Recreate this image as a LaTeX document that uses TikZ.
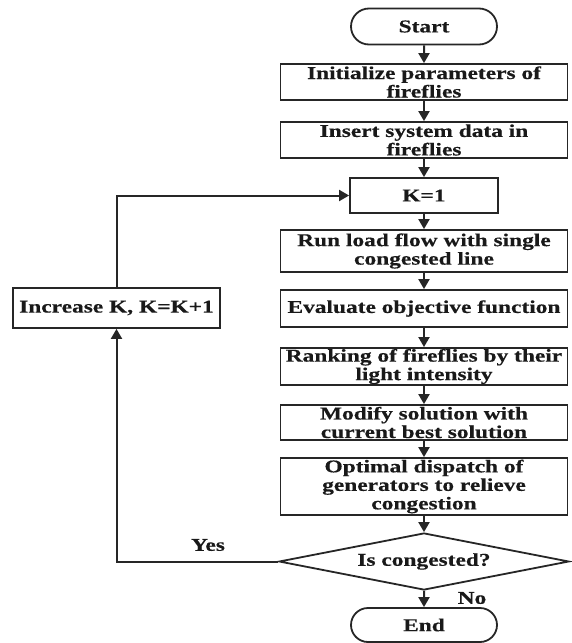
\documentclass[tikz,border=0pt]{standalone}
\usepackage{fontspec}
\setmainfont[FakeStretch=1.3,BoldFeatures={FakeStretch=1.3,FakeBold=0.4}]{Liberation Serif}
\usetikzlibrary{shapes.geometric,shapes.misc,arrows.meta}
\begin{document}
\begin{tikzpicture}[x=1pt,y=-1pt,
  every node/.style={font=\fontsize{18}{18.5}\selectfont\bfseries, align=center, inner sep=1pt, text=black!90},
  procbox/.style={draw=black!85, rectangle, line width=1.8pt},
  termbox/.style={draw=black!85, rounded rectangle, line width=1.8pt, minimum width=148pt, minimum height=36pt},
  decbox/.style={draw=black!85, diamond, aspect=5.1, inner sep=0pt, line width=1.8pt, minimum width=290pt, minimum height=57pt},
  flow/.style={draw=black!85, line width=2pt, -{Triangle[length=10pt,width=11pt]}},
  lbl/.style={font=\fontsize{18}{18.5}\selectfont\bfseries}]
\useasboundingbox (0,0) rectangle (572,643);
\node[termbox] (start) at (424,26.5) {Start};
\node[procbox, minimum width=287pt, minimum height=36pt] (init) at (424,82) {Initialize parameters of\\fireflies};
\node[procbox, minimum width=287pt, minimum height=36pt] (insert) at (424,140) {Insert system data in\\fireflies};
\node[procbox, minimum width=148pt, minimum height=35pt] (k1) at (424,195.5) {K=1};
\node[procbox, minimum width=287pt, minimum height=42pt] (run) at (424,251) {Run load flow with single\\congested line};
\node[procbox, minimum width=287pt, minimum height=37pt] (eval) at (424,308.5) {Evaluate objective function};
\node[procbox, minimum width=287pt, minimum height=37pt] (rank) at (424,366.5) {Ranking of fireflies by their\\light intensity};
\node[procbox, minimum width=287pt, minimum height=35pt] (mod) at (424,422.5) {Modify solution with\\current best solution};
\node[procbox, minimum width=287pt, minimum height=57pt] (opt) at (424,486.5) {Optimal dispatch of\\generators to relieve\\congestion};
\node[decbox] (dec) at (424,561.5) {Is congested?};
\node[termbox, minimum height=34pt] (end) at (424,625) {End};
\node[procbox, minimum width=207pt, minimum height=40pt] (inc) at (116.5,308) {Increase K, K=K+1};
\draw[flow] (start) -- (init);
\draw[flow] (init) -- (insert);
\draw[flow] (insert) -- (k1);
\draw[flow] (k1) -- (run);
\draw[flow] (run) -- (eval);
\draw[flow] (eval) -- (rank);
\draw[flow] (rank) -- (mod);
\draw[flow] (mod) -- (opt);
\draw[flow] (opt) -- (dec);
\draw[flow] (dec) -- (end);
\draw[flow] (dec.west) -| (inc.south);
\draw[flow] (inc.north) |- (k1.west);
\node[lbl] (yes) at (208,545) {Yes};
\node[lbl] (no) at (472,598) {No};
\end{tikzpicture}
\end{document}
